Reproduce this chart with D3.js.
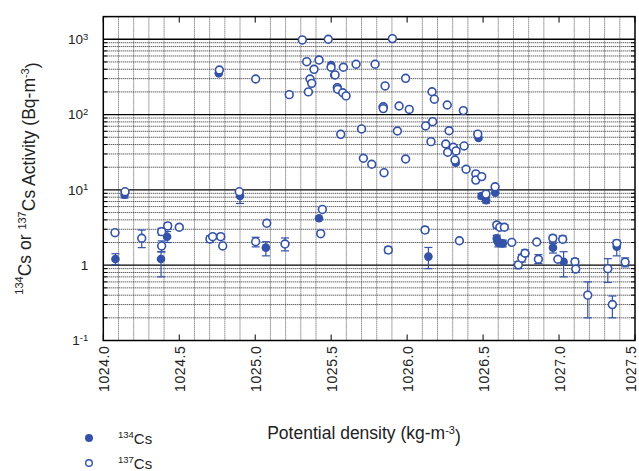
<!DOCTYPE html>
<html>
<head>
<meta charset="utf-8">
<script src="https://cdn.jsdelivr.net/npm/d3@7"></script>
<style>
  body { margin: 0; background: #fff; }
  text { font-family: "Liberation Sans", Arial, sans-serif; fill: #222; }
</style>
</head>
<body>
<div id="chart"></div>
<script>
// potential density (kg/m3), activity (Bq/m3), error low, error high
const cs134 = [
  [1024.08, 1.21, 1.02, 1.42],
  [1024.14, 8.6, 7.8, 9.5],
  [1024.38, 1.21, 0.70, 1.51],
  [1024.42, 2.39, 2.0, 2.8],
  [1024.76, 353, null, null],
  [1024.90, 8.3, 6.6, 9.5],
  [1025.07, 1.71, 1.33, 2.05],
  [1025.42, 4.2, null, null],
  [1025.42, 530, null, null],
  [1025.50, 456, null, null],
  [1025.52, 336, null, null],
  [1025.54, 228, null, null],
  [1025.84, 127, null, null],
  [1026.14, 1.30, 0.90, 1.72],
  [1026.32, 23, null, null],
  [1026.47, 49, null, null],
  [1026.49, 8.3, 7.6, 9.0],
  [1026.52, 7.3, 6.7, 8.0],
  [1026.58, 9.2, null, null],
  [1026.59, 2.27, 2.05, 2.5],
  [1026.60, 1.99, 1.75, 2.2],
  [1026.63, 1.95, 1.75, 2.15],
  [1026.96, 1.71, 1.45, 1.95],
  [1027.03, 1.11, 0.70, 1.51],
  [1027.38, 1.76, 1.33, 2.05]
];

const cs137 = [
  [1024.077, 2.70, null, null],
  [1024.143, 9.46, null, null],
  [1024.253, 2.28, 1.71, 2.93],
  [1024.384, 2.79, 2.5, 3.1],
  [1024.384, 1.80, 1.5, 2.1],
  [1024.424, 3.32, 3.0, 3.6],
  [1024.50, 3.19, 3.0, 3.4],
  [1024.702, 2.23, 2.0, 2.45],
  [1024.72, 2.39, null, null],
  [1024.764, 391, null, null],
  [1024.773, 2.39, 2.2, 2.6],
  [1024.786, 1.80, null, null],
  [1024.895, 9.46, null, null],
  [1025.003, 297, null, null],
  [1025.003, 2.05, 1.75, 2.35],
  [1025.076, 3.6, null, null],
  [1025.196, 1.91, 1.55, 2.3],
  [1025.224, 184, null, null],
  [1025.31, 980, null, null],
  [1025.339, 504, null, null],
  [1025.35, 200, null, null],
  [1025.361, 297, null, null],
  [1025.372, 260, null, null],
  [1025.387, 399, null, null],
  [1025.42, 530, null, null],
  [1025.431, 2.62, null, null],
  [1025.442, 5.5, null, null],
  [1025.481, 1000, null, null],
  [1025.499, 425, null, null],
  [1025.526, 336, null, null],
  [1025.54, 228, null, null],
  [1025.543, 217, null, null],
  [1025.563, 54.7, null, null],
  [1025.576, 195, null, null],
  [1025.58, 425, null, null],
  [1025.598, 177, null, null],
  [1025.664, 466, null, null],
  [1025.70, 64.4, null, null],
  [1025.712, 26.3, null, null],
  [1025.767, 21.9, null, null],
  [1025.789, 466, null, null],
  [1025.843, 127, null, null],
  [1025.843, 120, null, null],
  [1025.848, 16.9, null, null],
  [1025.855, 240, null, null],
  [1025.876, 1.59, 1.45, 1.75],
  [1025.903, 1020, null, null],
  [1025.936, 60.5, null, null],
  [1025.947, 130, null, null],
  [1025.99, 303, null, null],
  [1025.99, 25.7, null, null],
  [1026.014, 117, null, null],
  [1026.118, 2.93, 2.7, 3.2],
  [1026.122, 70.6, null, null],
  [1026.157, 43.7, null, null],
  [1026.164, 201, null, null],
  [1026.168, 80.5, null, null],
  [1026.179, 160, null, null],
  [1026.254, 40.7, null, null],
  [1026.264, 134, null, null],
  [1026.267, 31.6, null, null],
  [1026.276, 61, null, null],
  [1026.304, 36.8, null, null],
  [1026.315, 24.9, null, null],
  [1026.322, 32.9, null, null],
  [1026.344, 2.11, null, null],
  [1026.37, 113, null, null],
  [1026.375, 38.3, null, null],
  [1026.388, 18.8, null, null],
  [1026.452, 16.3, null, null],
  [1026.452, 13.5, null, null],
  [1026.465, 55, null, null],
  [1026.491, 15, null, null],
  [1026.519, 8.8, null, null],
  [1026.579, 11, null, null],
  [1026.59, 3.42, 3.1, 3.7],
  [1026.61, 3.19, null, null],
  [1026.64, 3.19, 2.95, 3.45],
  [1026.689, 2.01, null, null],
  [1026.732, 1.01, 0.9, 1.12],
  [1026.755, 1.24, 1.1, 1.4],
  [1026.776, 1.44, 1.3, 1.6],
  [1026.853, 2.03, null, null],
  [1026.864, 1.20, 1.05, 1.38],
  [1026.959, 2.28, 2.05, 2.5],
  [1026.992, 1.20, null, null],
  [1027.024, 2.21, 2.0, 2.45],
  [1027.105, 1.11, 1.0, 1.22],
  [1027.11, 0.89, 0.8, 0.98],
  [1027.189, 0.40, 0.20, 0.60],
  [1027.321, 0.90, 0.59, 1.22],
  [1027.351, 0.30, 0.20, 0.39],
  [1027.38, 1.95, 1.75, 2.15],
  [1027.435, 1.10, 0.95, 1.25]
];

const xTicks = [1024.0, 1024.5, 1025.0, 1025.5, 1026.0, 1026.5, 1027.0, 1027.5];
const yTicks = [0.1, 1, 10, 100, 1000];
const yTickBase = ["1", "1", "10", "10", "10"];
const yTickExp = ["-1", "", "1", "2", "3"];

const W = 639, H = 471;
const margin = {top: 16.6, right: 4, bottom: 130.5, left: 103.3};
const iw = W - margin.left - margin.right;
const ih = H - margin.top - margin.bottom;
const BLUE = "#3352a8";

const svg = d3.select("#chart").append("svg")
    .attr("width", W)
    .attr("height", H);

const g = svg.append("g")
    .attr("transform", `translate(${margin.left},${margin.top})`);

const x = d3.scaleLinear().domain([1024, 1027.5]).range([0, iw]);
const y = d3.scaleLog().domain([0.1, 2000]).range([ih, 0]);

// vertical grid every 0.1 except at labelled ticks
const vGrid = d3.range(1, 35).filter(i => i % 5 !== 0).map(i => 1024 + i / 10);
g.selectAll(".vgrid")
    .data(vGrid).enter()
  .append("line")
    .attr("x1", d => x(d)).attr("x2", d => x(d))
    .attr("y1", 0).attr("y2", ih)
    .attr("stroke", "#555")
    .attr("stroke-width", 1)
    .attr("stroke-dasharray", "1,1");

// horizontal minor grid
const hMinor = [];
yTicks.forEach(dec => {
  for (let k = 2; k <= 9; k++) {
    if (dec * k <= 2000) hMinor.push(dec * k);
  }
});
g.selectAll(".hgrid")
    .data(hMinor).enter()
  .append("line")
    .attr("x1", 0).attr("x2", iw)
    .attr("y1", d => y(d)).attr("y2", d => y(d))
    .attr("stroke", "#222")
    .attr("stroke-width", 1)
    .attr("stroke-dasharray", "1,1");

// minor ticks on left and right
g.selectAll(".ltick")
    .data(hMinor).enter()
  .append("line")
    .attr("x1", 0).attr("x2", 4)
    .attr("y1", d => y(d)).attr("y2", d => y(d))
    .attr("stroke", "#000");
g.selectAll(".rtick")
    .data(hMinor).enter()
  .append("line")
    .attr("x1", iw - 4).attr("x2", iw)
    .attr("y1", d => y(d)).attr("y2", d => y(d))
    .attr("stroke", "#000");

// decade lines
g.selectAll(".dec")
    .data(yTicks.slice(1)).enter()
  .append("line")
    .attr("x1", 0).attr("x2", iw)
    .attr("y1", d => y(d)).attr("y2", d => y(d))
    .attr("stroke", "#000")
    .attr("stroke-width", 1.3);

// major x ticks (inside, top and bottom)
g.selectAll(".xt-b")
    .data(xTicks).enter()
  .append("line")
    .attr("x1", d => x(d)).attr("x2", d => x(d))
    .attr("y1", ih).attr("y2", ih - 6)
    .attr("stroke", "#000");
g.selectAll(".xt-t")
    .data(xTicks).enter()
  .append("line")
    .attr("x1", d => x(d)).attr("x2", d => x(d))
    .attr("y1", 0).attr("y2", 6)
    .attr("stroke", "#000");

// frame
g.append("rect")
    .attr("width", iw).attr("height", ih)
    .attr("fill", "none")
    .attr("stroke", "#000")
    .attr("stroke-width", 1.5);

// x tick labels (last one pulled in so it stays on the page)
g.selectAll(".xlab")
    .data(xTicks).enter()
  .append("text")
    .attr("transform", d => `translate(${Math.min(x(d) + 1, iw - 4)},${ih + 5}) rotate(-90)`)
    .attr("text-anchor", "end")
    .attr("dy", "0.35em")
    .style("font-size", "14px")
    .style("letter-spacing", "0.6px")
    .text(d => d.toFixed(1));

// y tick labels with superscripts
const ylab = g.selectAll(".ylab")
    .data(yTicks).enter()
  .append("text")
    .attr("x", -15)
    .attr("y", d => y(d))
    .attr("dy", "0.35em")
    .attr("text-anchor", "end")
    .style("font-size", "13.5px");
ylab.append("tspan").text((d, i) => yTickBase[i]);
ylab.append("tspan")
    .attr("dy", "-0.45em")
    .style("font-size", "9.5px")
    .text((d, i) => yTickExp[i]);

// error bars
function errorBars (data, cls) {
  const eb = g.selectAll("." + cls)
      .data(data.filter(d => d[2] != null)).enter()
    .append("g")
      .attr("stroke", BLUE)
      .attr("stroke-width", 1.2);
  eb.append("line")
      .attr("x1", d => x(d[0])).attr("x2", d => x(d[0]))
      .attr("y1", d => y(d[2])).attr("y2", d => y(d[3]));
  eb.append("line")
      .attr("x1", d => x(d[0]) - 4).attr("x2", d => x(d[0]) + 4)
      .attr("y1", d => y(d[2])).attr("y2", d => y(d[2]));
  eb.append("line")
      .attr("x1", d => x(d[0]) - 4).attr("x2", d => x(d[0]) + 4)
      .attr("y1", d => y(d[3])).attr("y2", d => y(d[3]));
}
errorBars(cs134, "eb134");
errorBars(cs137, "eb137");

g.selectAll(".p134")
    .data(cs134).enter()
  .append("circle")
    .attr("cx", d => x(d[0]))
    .attr("cy", d => y(d[1]))
    .attr("r", 4.3)
    .attr("fill", BLUE);

g.selectAll(".p137")
    .data(cs137).enter()
  .append("circle")
    .attr("cx", d => x(d[0]))
    .attr("cy", d => y(d[1]))
    .attr("r", 3.9)
    .attr("fill", "#fff")
    .attr("stroke", BLUE)
    .attr("stroke-width", 1.6);

// axis titles
const xt = svg.append("text")
    .attr("x", 364)
    .attr("y", 439)
    .attr("text-anchor", "middle")
    .style("font-size", "17.5px");
xt.append("tspan").text("Potential density (kg-m");
xt.append("tspan").attr("dy", "-0.5em").style("font-size", "11px").text("-3");
xt.append("tspan").attr("dy", "0.5em").text(")");

const yt = svg.append("text")
    .attr("transform", `translate(28,${margin.top + ih / 2}) rotate(-90)`)
    .attr("text-anchor", "middle")
    .style("font-size", "17.5px");
yt.append("tspan").attr("dy", "-0.5em").style("font-size", "11px").text("134");
yt.append("tspan").attr("dy", "0.5em").text("Cs or ");
yt.append("tspan").attr("dy", "-0.5em").style("font-size", "11px").text("137");
yt.append("tspan").attr("dy", "0.5em").text("Cs Activity (Bq-m");
yt.append("tspan").attr("dy", "-0.5em").style("font-size", "11px").text("-3");
yt.append("tspan").attr("dy", "0.5em").text(")");

// legend
const legend = [
  {label: "134", filled: true, y: 438},
  {label: "137", filled: false, y: 463}
];
const lg = svg.selectAll(".legend")
    .data(legend).enter()
  .append("g");
lg.append("circle")
    .attr("cx", 89)
    .attr("cy", d => d.y)
    .attr("r", 3.3)
    .attr("fill", d => d.filled ? BLUE : "#fff")
    .attr("stroke", BLUE)
    .attr("stroke-width", 1.4);
const lt = lg.append("text")
    .attr("x", 118)
    .attr("y", d => d.y + 4)
    .style("font-size", "15px");
lt.append("tspan").attr("dy", "-0.45em").style("font-size", "9.5px").text(d => d.label);
lt.append("tspan").attr("dy", "0.45em").text("Cs");
</script>
</body>
</html>
